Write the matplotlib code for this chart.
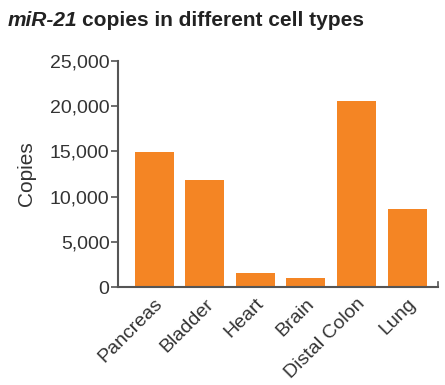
import numpy as np
from matplotlib import pyplot as plt

cell_types = ['Pancreas', 'Bladder', 'Heart', 'Brain', 'Distal Colon', 'Lung']
copies = [14900, 11800, 1500, 1000, 20600, 8600]
yticks = [0, 5000, 10000, 15000, 20000, 25000]

plt.rcParams['font.family'] = ['Liberation Sans', 'DejaVu Sans']

fig = plt.figure(figsize=(4.45, 3.85), dpi=100)
ax = fig.add_axes([0.265, 0.2545, 0.719, 0.587])

x = np.arange(len(cell_types))
ax.bar(x, copies, width=0.77, color='#F48524')

ax.set_xlim(-0.72, len(cell_types) - 1 + 0.61)
ax.set_ylim(0, 25000)
ax.set_yticks(yticks)
ax.set_yticklabels(['{:,}'.format(v) for v in yticks])
ax.set_xticks(x)
ax.set_xticklabels(cell_types, rotation=45, ha='right', rotation_mode='anchor')

for s in ['top', 'right']:
    ax.spines[s].set_visible(False)
for s in ['left', 'bottom']:
    ax.spines[s].set_color('#555555')
    ax.spines[s].set_linewidth(1.5)
ax.tick_params(axis='y', length=5, width=1.2, color='#555555', labelsize=14,
               labelcolor='#333333', pad=1)
ax.tick_params(axis='x', length=0, labelsize=14, labelcolor='#333333', pad=6)
# small tick at the right end of the x axis
ax.plot([1, 1], [0, 0.02], transform=ax.transAxes, color='#555555', lw=1.2,
        clip_on=False)

ax.set_ylabel('Copies', fontsize=15, color='#333333', labelpad=10)

# title: italic gene name followed by plain bold text
t = fig.text(0.018, 0.948, 'miR-21', fontsize=15, fontweight='bold', fontstyle='italic',
             va='center', color='#222222')
fig.canvas.draw()
bb = t.get_window_extent()
fig.text(bb.x1 / fig.bbox.width + 0.009, 0.948, 'copies in different cell types',
         fontsize=15, fontweight='bold', va='center', color='#222222')

fig.savefig('out.png', dpi=100)
